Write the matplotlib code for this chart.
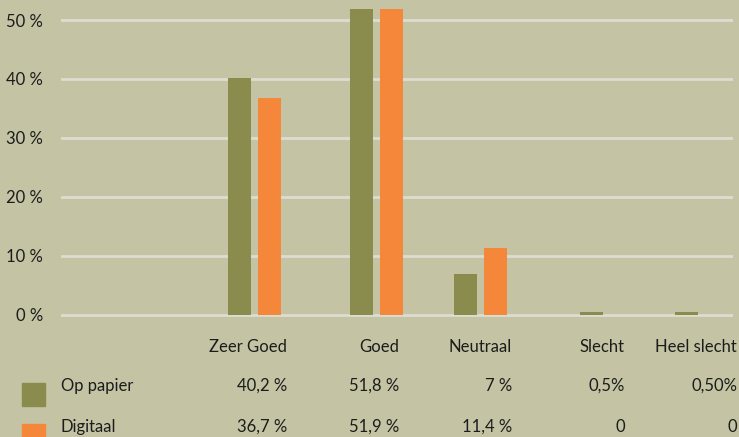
import matplotlib
matplotlib.use("Agg")
import matplotlib.pyplot as plt
from matplotlib.patches import Rectangle

# data
categories = ['Zeer Goed', 'Goed', 'Neutraal', 'Slecht', 'Heel slecht']
series_names = ['Op papier', 'Digitaal']
op_papier = [40.2, 51.8, 7, 0.5, 0.5]
digitaal = [36.7, 51.9, 11.4, 0, 0]
op_papier_labels = ['40,2 %', '51,8 %', '7 %', '0,5%', '0,50%']
digitaal_labels = ['36,7 %', '51,9 %', '11,4 %', '0', '0']
y_ticks = [0, 10, 20, 30, 40, 50]

# styling / layout
bg = '#c4c4a4'
olive = '#8a8c4e'
orange = '#f5873a'
grid_col = '#dcdcd2'
text_col = '#1c1c1c'
plt.rcParams['font.family'] = ['Lato', 'DejaVu Sans']

W, H = 739, 437
fig = plt.figure(figsize=(W / 100, H / 100), dpi=100, facecolor=bg)
ax = fig.add_axes([61 / W, 1 - 318 / H, 672 / W, 318 / H])
ax.set_facecolor(bg)

group_x = [193, 315.5, 419.5, 545, 640]   # group centres, axis units
offset = 15
bar_w = 23
ax.bar([x - offset for x in group_x], op_papier, width=bar_w, color=olive, zorder=3)
ax.bar([x + offset for x in group_x], digitaal, width=bar_w, color=orange, zorder=3)

ax.set_xlim(0, 672)
ax.set_ylim(-0.51, 53.39)
ax.set_xticks([])
ax.set_yticks(y_ticks)
ax.set_yticklabels([f'{t} %' for t in y_ticks], color=text_col, fontsize=12)
ax.tick_params(axis='y', length=0, pad=13)
ax.yaxis.grid(True, color=grid_col, linewidth=2)
ax.set_axisbelow(True)
for s in ax.spines.values():
    s.set_visible(False)

# data table below the plot
col_right = [287, 399, 512, 625, 737]
row_y = [347, 386, 427]
for i, cat in enumerate(categories):
    fig.text(col_right[i] / W, 1 - row_y[0] / H, cat, ha='right', va='center',
             fontsize=12, color=text_col)
    fig.text(col_right[i] / W, 1 - row_y[1] / H, op_papier_labels[i], ha='right',
             va='center', fontsize=12, color=text_col)
    fig.text(col_right[i] / W, 1 - row_y[2] / H, digitaal_labels[i], ha='right',
             va='center', fontsize=12, color=text_col)

for name, col, y in zip(series_names, [olive, orange], row_y[1:]):
    fig.patches.append(Rectangle((22 / W, 1 - (y + 20) / H), 23 / W, 23 / H,
                                 transform=fig.transFigure, color=col))
    fig.text(61 / W, 1 - y / H, name, ha='left', va='center', fontsize=12, color=text_col)

fig.savefig('out.png', dpi=100, facecolor=bg)
